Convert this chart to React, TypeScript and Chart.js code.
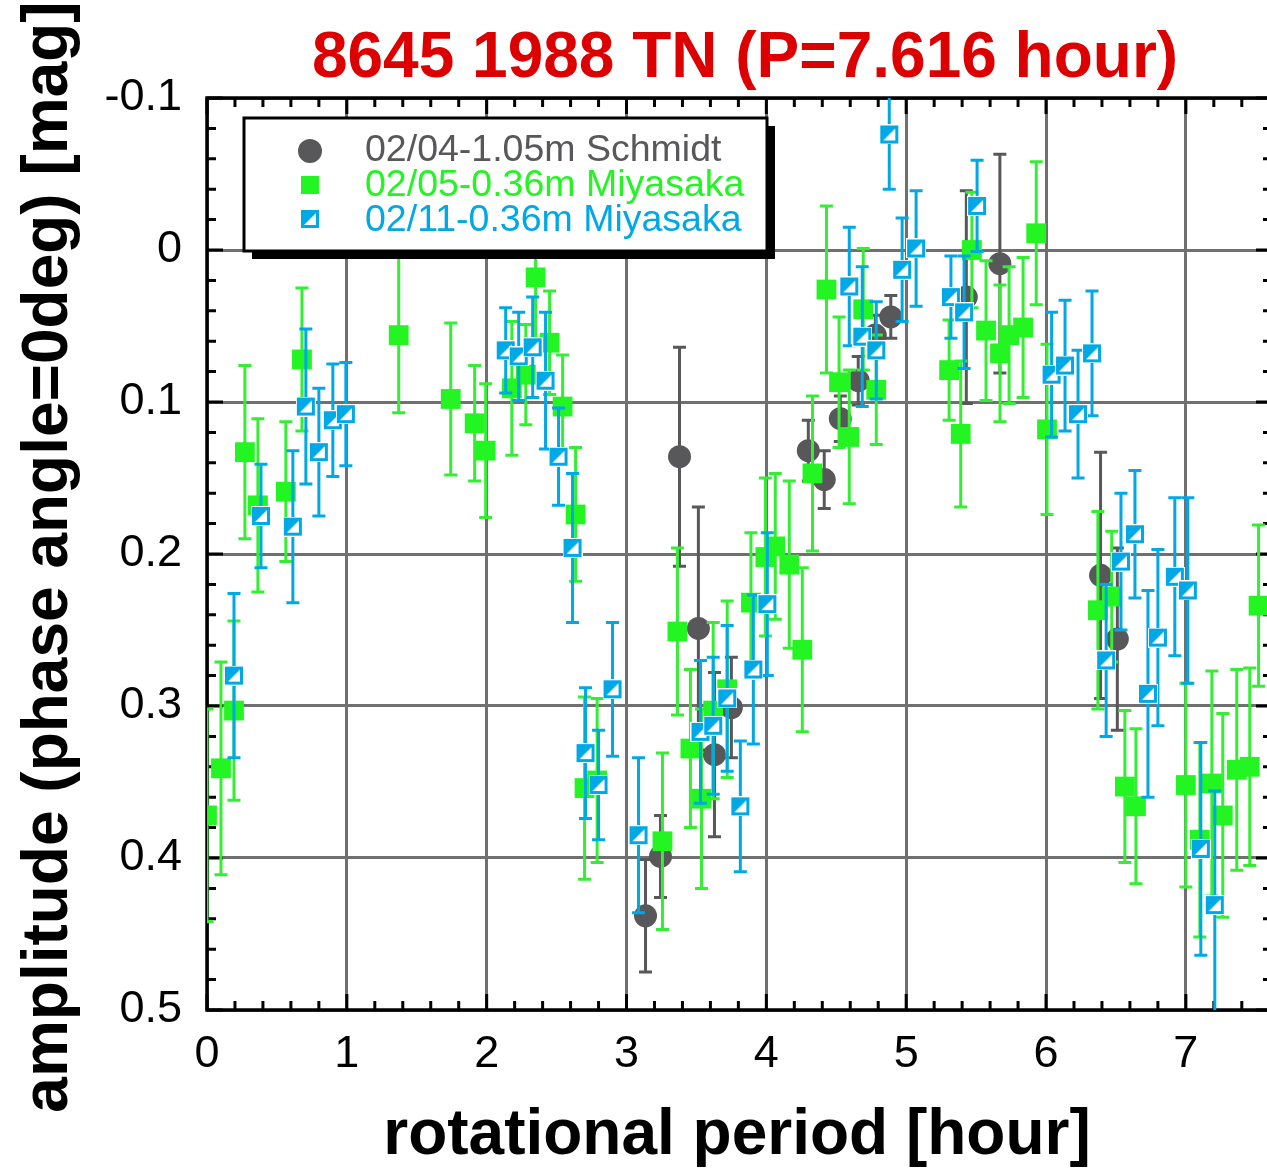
import React, { useEffect, useRef } from "react";
import { Chart, registerables } from "chart.js";
Chart.register(...registerables);

const FONT = '"Liberation Sans", Arial, Helvetica, sans-serif';
const W = 1290;
const H = 1169;

const TITLE = "8645 1988 TN (P=7.616 hour)";
const X_TITLE = "rotational period [hour]";
const Y_TITLE = "amplitude (phase angle=0deg) [mag]";
const LEGEND_LABELS = ["02/04-1.05m Schmidt", "02/05-0.36m Miyasaka", "02/11-0.36m Miyasaka"];

const GRAY = "#58585b";
const GREEN = "#22f522";
const GREEN_BAR = "#33ee33";
const BLUE = "#00a8e6";
const GRID = "#707070";

// 02/04 - 1.05m Schmidt
const schmidtX = [3.136, 3.243, 3.379, 3.514, 3.629, 3.75, 4.3, 4.414, 4.529, 4.657, 4.779, 4.89, 5.43, 5.67, 6.39, 6.51];
const schmidtY = [0.438, 0.399, 0.136, 0.249, 0.332, 0.301, 0.132, 0.151, 0.111, 0.086, 0.056, 0.044, 0.031, 0.009, 0.214, 0.256];
const schmidtErr = [0.037, 0.027, 0.072, 0.08, 0.054, 0.033, 0.02, 0.019, 0.015, 0.016, 0.013, 0.014, 0.07, 0.072, 0.081, 0.06];

// 02/05 - 0.36m Miyasaka
const miya5X = [0, 0.1, 0.193, 0.271, 0.364, 0.564, 0.679, 1.371, 1.743, 1.914, 1.993, 2.18, 2.28, 2.35, 2.45, 2.543, 2.636, 2.7, 2.79, 3.257, 3.364, 3.457, 3.536, 3.62, 3.72, 3.89, 3.993, 4.064, 4.164, 4.257, 4.33, 4.43, 4.52, 4.593, 4.693, 4.786, 5.307, 5.39, 5.47, 5.571, 5.671, 5.736, 5.836, 5.93, 6.007, 6.371, 6.47, 6.564, 6.643, 7.0, 7.1, 7.186, 7.264, 7.364, 7.457, 7.52];
const miya5Y = [0.372, 0.341, 0.303, 0.133, 0.168, 0.159, 0.072, 0.056, 0.098, 0.114, 0.132, 0.091, 0.082, 0.018, 0.061, 0.103, 0.174, 0.354, 0.349, 0.389, 0.251, 0.328, 0.361, 0.303, 0.289, 0.232, 0.202, 0.195, 0.207, 0.263, 0.147, 0.026, 0.087, 0.123, 0.039, 0.092, 0.079, 0.121, 0.0, 0.053, 0.068, 0.056, 0.051, -0.011, 0.118, 0.237, 0.228, 0.353, 0.366, 0.352, 0.388, 0.351, 0.372, 0.342, 0.34, 0.234];
const miya5Err = [0.07, 0.07, 0.059, 0.057, 0.057, 0.046, 0.047, 0.051, 0.05, 0.038, 0.044, 0.044, 0.033, 0.04, 0.034, 0.034, 0.044, 0.06, 0.054, 0.058, 0.055, 0.052, 0.059, 0.058, 0.058, 0.046, 0.052, 0.048, 0.055, 0.054, 0.051, 0.055, 0.043, 0.044, 0.04, 0.036, 0.033, 0.048, 0.038, 0.046, 0.045, 0.045, 0.046, 0.047, 0.056, 0.065, 0.043, 0.05, 0.051, 0.067, 0.064, 0.074, 0.067, 0.066, 0.065, 0.053];

// 02/11 - 0.36m Miyasaka
const miya11X = [0.193, 0.386, 0.614, 0.707, 0.8, 0.9, 0.993, 2.136, 2.229, 2.329, 2.421, 2.514, 2.614, 2.707, 2.8, 2.9, 3.086, 3.529, 3.62, 3.72, 3.814, 3.907, 4.007, 4.593, 4.686, 4.786, 4.879, 4.971, 5.071, 5.32, 5.414, 5.507, 6.04, 6.136, 6.229, 6.329, 6.43, 6.536, 6.636, 6.729, 6.8, 6.921, 7.014, 7.107, 7.207];
const miya11Y = [0.28, 0.175, 0.182, 0.103, 0.133, 0.112, 0.108, 0.066, 0.07, 0.064, 0.086, 0.136, 0.196, 0.331, 0.352, 0.289, 0.385, 0.317, 0.313, 0.295, 0.366, 0.276, 0.233, 0.024, 0.057, 0.066, -0.076, 0.013, -0.001, 0.031, 0.041, -0.029, 0.082, 0.076, 0.108, 0.068, 0.27, 0.205, 0.187, 0.292, 0.255, 0.215, 0.224, 0.394, 0.431];
const miya11Err = [0.054, 0.034, 0.05, 0.051, 0.042, 0.037, 0.034, 0.028, 0.029, 0.033, 0.045, 0.032, 0.049, 0.043, 0.036, 0.044, 0.051, 0.047, 0.045, 0.048, 0.043, 0.049, 0.047, 0.039, 0.046, 0.032, 0.036, 0.034, 0.038, 0.027, 0.037, 0.03, 0.041, 0.043, 0.042, 0.041, 0.05, 0.045, 0.042, 0.068, 0.058, 0.052, 0.061, 0.07, 0.075];

const X_MIN = 0;
const X_MAX = 7.616;
const Y_MIN = -0.1;
const Y_MAX = 0.5;

function makeBlueMarker(): HTMLCanvasElement {
  const c = document.createElement("canvas");
  c.width = 20;
  c.height = 20;
  const g = c.getContext("2d")!;
  g.fillStyle = "#ffffff";
  g.fillRect(0, 0, 20, 20);
  g.fillStyle = BLUE;
  g.beginPath();
  g.moveTo(2, 2);
  g.lineTo(18, 2);
  g.lineTo(2, 18);
  g.closePath();
  g.fill();
  g.strokeStyle = BLUE;
  g.lineWidth = 3;
  g.strokeRect(2.5, 2.5, 15, 15);
  return c;
}

function drawLegendMarker(ctx: CanvasRenderingContext2D, kind: number, x: number, y: number, blue: HTMLCanvasElement) {
  if (kind === 0) {
    ctx.fillStyle = GRAY;
    ctx.beginPath();
    ctx.arc(x, y, 12, 0, Math.PI * 2);
    ctx.fill();
  } else if (kind === 1) {
    ctx.fillStyle = GREEN;
    ctx.fillRect(x - 9, y - 9, 18, 18);
  } else {
    ctx.drawImage(blue, x - 10, y - 10);
  }
}

export default function App() {
  const ref = useRef<HTMLCanvasElement | null>(null);

  useEffect(() => {
    if (!ref.current) return;
    const blue = makeBlueMarker();
    const toPts = (xs: number[], ys: number[]) => xs.map((x, i) => ({ x, y: ys[i] }));

    const errPlugin = {
      id: "errbars",
      beforeDatasetDraw(chart: any, args: any) {
        const ds = chart.data.datasets[args.index];
        const errs: number[] = ds.errs;
        if (!errs) return;
        const ctx = chart.ctx;
        const xs = chart.scales.x;
        const ys = chart.scales.y;
        const a = chart.chartArea;
        ctx.save();
        ctx.beginPath();
        ctx.rect(a.left, a.top, a.right - a.left, a.bottom - a.top);
        ctx.clip();
        ctx.strokeStyle = ds.barColor;
        ctx.lineWidth = 3;
        ds.data.forEach((p: any, i: number) => {
          const px = xs.getPixelForValue(p.x);
          const y1 = ys.getPixelForValue(p.y - errs[i]);
          const y2 = ys.getPixelForValue(p.y + errs[i]);
          ctx.beginPath();
          ctx.moveTo(px, y1);
          ctx.lineTo(px, y2);
          ctx.moveTo(px - 6.5, y1);
          ctx.lineTo(px + 6.5, y1);
          ctx.moveTo(px - 6.5, y2);
          ctx.lineTo(px + 6.5, y2);
          ctx.stroke();
        });
        ctx.restore();
      },
    };

    const framePlugin = {
      id: "frame",
      beforeDatasetsDraw(chart: any) {
        const ctx = chart.ctx;
        const a = chart.chartArea;
        const xs = chart.scales.x;
        const ys = chart.scales.y;
        ctx.save();
        ctx.strokeStyle = "#000";
        ctx.lineWidth = 3.5;
        ctx.strokeRect(a.left, a.top, a.right - a.left, a.bottom - a.top);
        ctx.lineWidth = 3;
        ctx.beginPath();
        for (let i = 0; i <= 38; i++) {
          const v = i * 0.2;
          const len = i % 5 === 0 ? 16 : 9;
          const px = xs.getPixelForValue(v);
          ctx.moveTo(px, a.bottom);
          ctx.lineTo(px, a.bottom - len);
          ctx.moveTo(px, a.top);
          ctx.lineTo(px, a.top + len);
        }
        for (let i = 0; i <= 30; i++) {
          const v = Y_MIN + i * 0.02;
          const len = i % 5 === 0 ? 16 : 9;
          const py = ys.getPixelForValue(v);
          ctx.moveTo(a.left, py);
          ctx.lineTo(a.left + len, py);
          ctx.moveTo(a.right, py);
          ctx.lineTo(a.right - len, py);
        }
        ctx.stroke();
        ctx.restore();
      },
      afterDatasetsDraw(chart: any) {
        const ctx = chart.ctx;
        ctx.save();
        // legend shadow + box
        ctx.fillStyle = "#000";
        ctx.fillRect(252, 126, 523, 133);
        ctx.fillStyle = "#fff";
        ctx.fillRect(244, 118, 523, 133);
        ctx.strokeStyle = "#000";
        ctx.lineWidth = 3;
        ctx.strokeRect(244, 118, 523, 133);
        const colors = [GRAY, GREEN, BLUE];
        const markerRows = [151, 185, 219];
        const textRows = [151, 186, 221];
        ctx.font = `37.5px ${FONT}`;
        ctx.textBaseline = "middle";
        ctx.textAlign = "left";
        LEGEND_LABELS.forEach((t, i) => {
          drawLegendMarker(ctx, i, 310, markerRows[i], blue);
          ctx.fillStyle = colors[i];
          ctx.fillText(t, 365, textRows[i]);
        });
        ctx.restore();
      },
      afterDraw(chart: any) {
        const ctx = chart.ctx;
        ctx.save();
        ctx.textBaseline = "alphabetic";
        ctx.textAlign = "center";
        ctx.fillStyle = "#dd0000";
        ctx.font = `bold 64px ${FONT}`;
        ctx.fillText(TITLE, 745, 77);
        ctx.fillStyle = "#000";
        ctx.fillText(X_TITLE, 737, 1154);
        ctx.translate(67, 557);
        ctx.rotate(-Math.PI / 2);
        ctx.fillText(Y_TITLE, 0, 0);
        ctx.restore();
      },
    };

    const chart = new Chart(ref.current, {
      type: "scatter",
      data: {
        datasets: [
          {
            label: LEGEND_LABELS[0],
            data: toPts(schmidtX, schmidtY),
            errs: schmidtErr,
            barColor: GRAY,
            pointStyle: "circle",
            pointRadius: 11.5,
            pointBackgroundColor: GRAY,
            pointBorderWidth: 0,
            order: 3,
          } as any,
          {
            label: LEGEND_LABELS[1],
            data: toPts(miya5X, miya5Y),
            errs: miya5Err,
            barColor: GREEN_BAR,
            pointStyle: "rect",
            pointRadius: 14,
            pointBackgroundColor: GREEN,
            pointBorderWidth: 0,
            order: 2,
          } as any,
          {
            label: LEGEND_LABELS[2],
            data: toPts(miya11X, miya11Y),
            errs: miya11Err,
            barColor: BLUE,
            pointStyle: blue,
            pointRadius: 10,
            order: 1,
          } as any,
        ],
      },
      options: {
        responsive: false,
        animation: false,
        devicePixelRatio: 1,
        layout: { padding: { top: 98, right: W - 1272, left: 0, bottom: 0 } },
        plugins: {
          legend: { display: false },
          tooltip: { enabled: false },
          title: { display: false },
        },
        scales: {
          x: {
            type: "linear",
            min: X_MIN,
            max: X_MAX,
            afterFit: (s: any) => {
              s.height = H - 1010;
            },
            ticks: {
              stepSize: 1,
              includeBounds: false,
              autoSkip: false,
              maxRotation: 0,
              padding: 18,
              color: "#000",
              font: { family: FONT, size: 45 },
              callback: (v: any) => String(Math.round(Number(v))),
            },
            grid: { color: GRID, lineWidth: 3, drawTicks: false },
            border: { display: false },
          },
          y: {
            type: "linear",
            min: Y_MIN,
            max: Y_MAX,
            reverse: true,
            afterFit: (s: any) => {
              s.width = 207;
            },
            ticks: {
              stepSize: 0.1,
              autoSkip: false,
              padding: 25,
              color: "#000",
              font: { family: FONT, size: 45 },
              callback: (v: any) => {
                const r = Math.round(Number(v) * 10) / 10;
                return r === 0 ? "0" : String(r);
              },
            },
            grid: { color: GRID, lineWidth: 3, drawTicks: false },
            border: { display: false },
          },
        },
      } as any,
      plugins: [errPlugin, framePlugin],
    });
    return () => chart.destroy();
  }, []);

  return (
    <div
      style={{
        position: "fixed",
        left: 0,
        top: 0,
        width: 1267,
        height: 1169,
        overflow: "hidden",
        background: "#fff",
      }}
    >
      <canvas ref={ref} width={W} height={H} style={{ display: "block", width: W, height: H }} />
    </div>
  );
}
